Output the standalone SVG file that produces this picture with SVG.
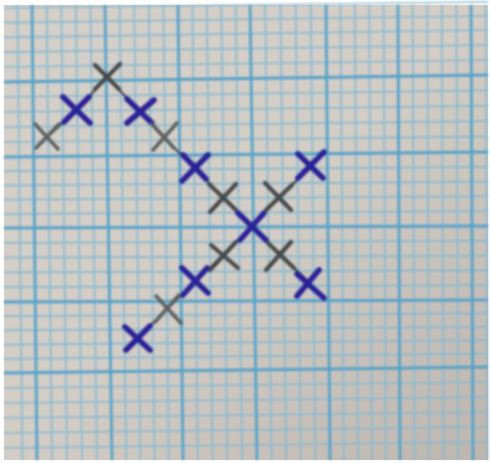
<svg xmlns="http://www.w3.org/2000/svg" width="491" height="463" viewBox="0 0 491 463">
<defs>
<linearGradient id="paper" x1="0" y1="0" x2="1" y2="1">
<stop offset="0" stop-color="#d5d0c9"/>
<stop offset="0.5" stop-color="#d3cdc6"/>
<stop offset="1" stop-color="#bdb5af"/>
</linearGradient>
<filter id="soft" x="-5%" y="-5%" width="110%" height="110%"><feGaussianBlur stdDeviation="0.9"/></filter>
<filter id="inkblur" x="-20%" y="-20%" width="140%" height="140%"><feGaussianBlur stdDeviation="1"/></filter>
</defs>
<style>
.minor{stroke:#88b9cf;stroke-width:1.7;fill:none}
.major{stroke:#56a2c8;stroke-width:2.8;fill:none}
.blue{stroke:#2c2397;stroke-width:5.6;stroke-linecap:round;fill:none}
.gray{stroke:#464a4b;stroke-width:4.2;stroke-linecap:round;fill:none}
.lgray{stroke:#5d6160;stroke-width:3.6;stroke-linecap:round;fill:none}
.link{stroke:#484b56;stroke-width:2.4;stroke-linecap:round;fill:none}
</style>
<rect width="491" height="463" fill="#ffffff"/>
<rect x="4" y="5" width="484" height="455" fill="url(#paper)"/>
<g id="grid" filter="url(#soft)">
<g class="minor">
<path d="M17.4 5 L22.4 460"/>
<path d="M46.6 5 L52 460"/><path d="M61.2 5 L67 460"/><path d="M75.8 5 L82 460"/><path d="M90.4 5 L97 460"/>
<path d="M119.6 5 L126.2 460"/><path d="M134.2 5 L140.4 460"/><path d="M148.8 5 L154.6 460"/><path d="M163.4 5 L168.8 460"/>
<path d="M192.4 5 L197.8 460"/><path d="M206.8 5 L212.6 460"/><path d="M221.2 5 L227.4 460"/><path d="M235.6 5 L242.2 460"/>
<path d="M265.2 5 L271.6 460"/><path d="M280.4 5 L286.2 460"/><path d="M295.6 5 L300.8 460"/><path d="M310.8 5 L315.4 460"/>
<path d="M340.4 5 L344 460"/><path d="M354.8 5 L358 460"/><path d="M369.2 5 L372 460"/><path d="M383.6 5 L386 460"/>
<path d="M412.6 5 L414.6 460"/><path d="M427.2 5 L429.2 460"/><path d="M441.8 5 L443.8 460"/><path d="M456.4 5 L458.4 460"/>
<path d="M485.6 5 L487.6 460"/>
<path d="M4 8 L488 2"/><path d="M4 22.6 L488 16"/><path d="M4 37.4 L488 30"/><path d="M4 52.2 L488 45"/><path d="M4 67 L488 60"/>
<path d="M4 97 L488 90.4"/><path d="M4 112 L488 105.8"/><path d="M4 127 L488 121.2"/><path d="M4 142 L488 136.6"/>
<path d="M4 171.2 L488 166.8"/><path d="M4 185.4 L488 181.6"/><path d="M4 199.6 L488 196.4"/><path d="M4 213.8 L488 211.2"/>
<path d="M4 242.8 L488 240.8"/><path d="M4 257.6 L488 255.6"/><path d="M4 272.4 L488 270.4"/><path d="M4 287.2 L488 285.2"/>
<path d="M4 316.2 L488 313.4"/><path d="M4 330.4 L488 326.8"/><path d="M4 344.6 L488 340.2"/><path d="M4 358.8 L488 353.6"/>
<path d="M4 388 L488 382"/><path d="M4 403 L488 397"/><path d="M4 418 L488 412"/><path d="M4 433 L488 427"/><path d="M4 448 L488 442"/>
</g>
<g class="major">
<path d="M32 5 L37 460"/><path d="M105 5 L112 460"/><path d="M178 5 L183 460"/><path d="M250 5 L257 460"/>
<path d="M326 5 L330 460"/><path d="M398 5 L400 460"/><path d="M471 5 L473 460"/>
<path d="M4 82 L488 75"/><path d="M4 157 L488 152"/><path d="M4 228 L488 226"/><path d="M4 302 L488 300"/><path d="M4 373 L488 367"/>
</g>
</g>
<g id="stitches" filter="url(#inkblur)">
<g id="connectors">
<path class="link" d="M47 137 L77 110 L107 77 L140 112 L163 137 L195 168 L223 198 L252 227 L280 255 L310 283"/>
<path class="link" d="M138 338 L168 308 L195 282 L223 255 L252 227 L278 198 L310 168"/>
</g>
<g id="x1" class="lgray"><path d="M35 124 L58 149"/><path d="M59 124 L36 148"/></g>
<g id="x2" class="blue"><path d="M63 97 L90 123"/><path d="M89 97 L64 122"/></g>
<g id="x3" class="gray"><path d="M95 65 L119 89"/><path d="M120 64 L95 89"/></g>
<g id="x4" class="blue"><path d="M127 99 L152 123"/><path d="M154 100 L127 123"/></g>
<g id="x5" class="lgray"><path d="M152 124 L174 148"/><path d="M177 123 L153 150"/></g>
<g id="x6" class="blue"><path d="M183 155 L206 179"/><path d="M208 155 L182 181"/></g>
<g id="x7" class="gray"><path d="M209 184 L236 210"/><path d="M236 184 L210 212"/></g>
<g id="x8" class="blue"><path d="M238 213 L266 240"/><path d="M264 213 L240 240"/></g>
<g id="x9" class="gray"><path d="M265 183 L291 210"/><path d="M292 185 L266 210"/></g>
<g id="x10" class="blue"><path d="M298 154 L323 178"/><path d="M324 152 L298 178"/></g>
<g id="x11" class="gray"><path d="M211 245 L238 268"/><path d="M236 242 L210 270"/></g>
<g id="x12" class="blue"><path d="M182 268 L208 293"/><path d="M207 268 L183 295"/></g>
<g id="x13" class="lgray"><path d="M156 296 L181 323"/><path d="M179 295 L155 322"/></g>
<g id="x14" class="blue"><path d="M125 327 L150 350"/><path d="M150 326 L126 350"/></g>
<g id="x15" class="gray"><path d="M268 243 L294 268"/><path d="M291 242 L266 270"/></g>
<g id="x16" class="blue"><path d="M297 274 L324 298"/><path d="M319 270 L297 296"/></g>
</g>
</svg>
